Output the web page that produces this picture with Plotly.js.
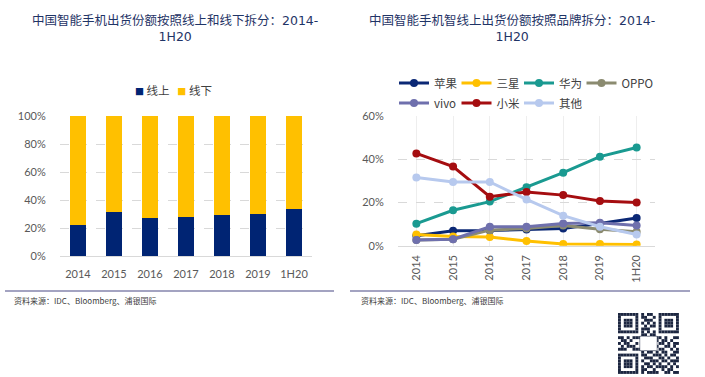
<!DOCTYPE html>
<html><head><meta charset="utf-8">
<script src="https://cdn.plot.ly/plotly-3.0.1.min.js"></script>
<style>html,body{margin:0;padding:0;background:#fff;}#chart{width:705px;height:377px;}</style>
</head><body><div id="chart"></div>
<script>
// ---- data ----
const years = ['2014','2015','2016','2017','2018','2019','1H20'];
const online = [0.22, 0.315, 0.27, 0.28, 0.295, 0.30, 0.335];
const offline = [0.78, 0.685, 0.73, 0.72, 0.705, 0.70, 0.665];
const seriesNames = ['线上', '线下'];

const apple   = [0.046, 0.069, 0.070, 0.075, 0.080, 0.103, 0.128];
const samsung = [0.052, 0.042, 0.040, 0.022, 0.008, 0.008, 0.006];
const huawei  = [0.102, 0.164, 0.204, 0.270, 0.338, 0.412, 0.454];
const oppo    = [0.026, 0.030, 0.072, 0.080, 0.093, 0.076, 0.065];
const vivo    = [0.026, 0.030, 0.088, 0.088, 0.103, 0.106, 0.094];
const xiaomi  = [0.427, 0.366, 0.227, 0.248, 0.234, 0.207, 0.200];
const others  = [0.316, 0.295, 0.295, 0.214, 0.139, 0.088, 0.052];

const brandNames = ['苹果','三星','华为','OPPO','vivo','小米','其他'];
const brandData = [apple, samsung, huawei, oppo, vivo, xiaomi, others];
const brandColors = ['#0b2875','#ffc000','#1a9a91','#8b8b70','#6f70ad','#a50d10','#b7c9ee'];
const brandLegend = ['legend2','legend2','legend2','legend2','legend3','legend3','legend3'];

const title1 = '中国智能手机出货份额按照线上和线下拆分：2014-<br>1H20';
const title2 = '中国智能手机智线上出货份额按照品牌拆分：2014-<br>1H20';
const sourceText = '资料来源：IDC、Bloomberg、浦银国际';

// decorative QR-like block
const qrRows = [
"111111101011001111111",
"100000101100101000001",
"101110100111001011101",
"101110101010101011101",
"101110100101101011101",
"100000101110001000001",
"111111101010101111111",
"000000001101100000000",
"110101110010111010011",
"011010001111010110100",
"101100100000001101011",
"010111000000010011010",
"111001110101101100101",
"000000001011010110011",
"111111101100111010110",
"100000100111001101001",
"101110101001110110111",
"101110100110101001010",
"101110101011011110101",
"100000101100100101100",
"111111101011110011011"];

// ---- helpers ----
const W = 705, H = 377;
const px = x => x / W;
const py = y => 1 - y / H;
const tickFont = {family: 'Lato, "Noto Sans CJK SC", sans-serif', size: 11, color: '#595959'};
const cjkFont = {family: '"Noto Sans CJK SC", sans-serif', size: 11.5, color: '#404040'};
const barColors = ['#002473', '#ffc000'];

const traces = [];
traces.push({type:'bar', x: years, y: online, name: seriesNames[0], marker:{color: barColors[0]}, xaxis:'x', yaxis:'y', showlegend:false, width:0.42});
traces.push({type:'bar', x: years, y: offline, name: seriesNames[1], marker:{color: barColors[1]}, xaxis:'x', yaxis:'y', showlegend:false, width:0.42});

brandNames.forEach((n, i) => {
  const t = {type:'scatter', mode:'lines+markers', x: years, y: brandData[i], name: n,
    line:{color: brandColors[i], width: 3}, marker:{color: brandColors[i], size: 8},
    xaxis:'x2', yaxis:'y2', legend: brandLegend[i]};
  if (n === 'OPPO') t.legendwidth = 40;
  traces.push(t);
});

const shapes = [
  {type:'line', xref:'paper', yref:'paper', x0:px(5), x1:px(334), y0:py(291), y1:py(291), line:{color:'#8585ad', width:1.5}},
  {type:'line', xref:'paper', yref:'paper', x0:px(350), x1:px(690), y0:py(291), y1:py(291), line:{color:'#8585ad', width:1.5}},
];
const qx = 618, qy = 313, m = 2.9;
qrRows.forEach((row, r) => {
  for (let c = 0; c < row.length; c++) {
    if (row[c] === '1') {
      shapes.push({type:'rect', xref:'paper', yref:'paper', x0:px(qx + c*m), x1:px(qx + (c+1)*m), y0:py(qy + (r+1)*m), y1:py(qy + r*m), line:{width:0}, fillcolor:'#1c2640'});
    }
  }
});
shapes.push({type:'rect', xref:'paper', yref:'paper', x0:px(qx+7.5*m), x1:px(qx+13.5*m), y0:py(qy+13*m), y1:py(qy+8*m), line:{color:'#1c2640', width:0.5}, fillcolor:'#ffffff'});

const titleFont = {family:'"DejaVu Sans", "Noto Sans CJK SC", sans-serif', size: 12.5, color:'#1f3466'};
const srcFont = {family:'"Noto Sans CJK SC", sans-serif', size: 8, color:'#404040'};

const legendText = seriesNames.map((n, i) =>
  `<span style="color:${barColors[i]};font-size:9px">■</span> ${n}`).join('&nbsp;&nbsp;&nbsp;');

const annotations = [
  {text: title1, xref:'paper', yref:'paper', x: px(175), y: py(29), xanchor:'center', yanchor:'middle', showarrow:false, font: titleFont, align:'center'},
  {text: title2, xref:'paper', yref:'paper', x: px(512), y: py(29), xanchor:'center', yanchor:'middle', showarrow:false, font: titleFont, align:'center'},
  {text: sourceText, xref:'paper', yref:'paper', x: px(12), y: py(300), xanchor:'left', yanchor:'middle', showarrow:false, font: srcFont},
  {text: sourceText, xref:'paper', yref:'paper', x: px(359), y: py(300), xanchor:'left', yanchor:'middle', showarrow:false, font: srcFont},
  {text: legendText, xref:'paper', yref:'paper', x: px(133), y: py(90), xanchor:'left', yanchor:'middle', showarrow:false, font: cjkFont},
];

const gridDash = {gridcolor:'#d9d9d9', griddash:'dash', gridwidth:1};

const layout = {
  width: W, height: H, margin:{l:0,r:0,t:0,b:0}, paper_bgcolor:'#fff', plot_bgcolor:'#fff',
  barmode:'stack',
  xaxis: {domain:[px(60), px(312)], range:[-0.5, 6.5], type:'category', tickfont: tickFont,
          showline:true, linecolor:'#d9d9d9', linewidth:1, ticks:'outside', ticklen:8, tickcolor:'rgba(0,0,0,0)'},
  yaxis: {domain:[py(256), py(116)], range:[0, 1.0], tickvals:[0,0.2,0.4,0.6,0.8,1.0], tickformat:'.0%', tickfont: tickFont,
          showgrid:true, ...gridDash, zeroline:false, ticks:'outside', ticklen:11, tickcolor:'rgba(0,0,0,0)'},
  xaxis2: {domain:[px(398), px(655)], range:[-0.5, 6.5], type:'category', tickfont: tickFont, tickangle:-90,
          showline:true, linecolor:'#d9d9d9', linewidth:1, ticks:'outside', ticklen:4, tickcolor:'rgba(0,0,0,0)', anchor:'y2'},
  yaxis2: {domain:[py(245.7), py(116)], range:[0, 0.6], tickvals:[0,0.2,0.4,0.6], tickformat:'.0%', tickfont: tickFont,
          showgrid:true, ...gridDash, zeroline:false, ticks:'outside', ticklen:11, tickcolor:'rgba(0,0,0,0)', anchor:'x2'},
  legend2: {orientation:'h', x: px(394), y: py(83), xanchor:'left', yanchor:'middle', font: cjkFont, entrywidth: 17.5, itemwidth:30, bgcolor:'rgba(0,0,0,0)'},
  legend3: {orientation:'h', x: px(394), y: py(103), xanchor:'left', yanchor:'middle', font: cjkFont, entrywidth: 17.5, itemwidth:30, bgcolor:'rgba(0,0,0,0)'},
  shapes: shapes,
  annotations: annotations,
  showlegend: true,
};

Plotly.newPlot('chart', traces, layout, {staticPlot:true, displayModeBar:false});
</script></body></html>
